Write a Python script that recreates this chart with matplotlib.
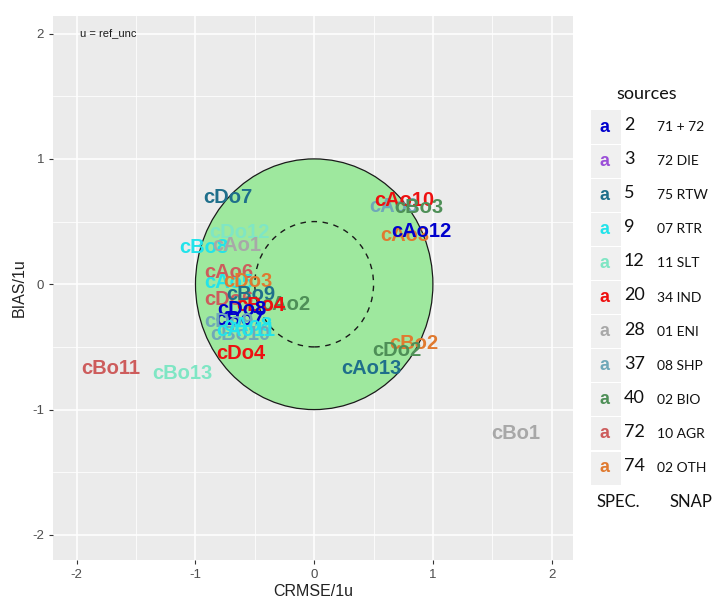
import matplotlib
matplotlib.use("Agg")
import matplotlib.pyplot as plt
from matplotlib.patches import Circle, Rectangle

plt.rcParams["axes.unicode_minus"] = False
plt.rcParams["font.family"] = ["Liberation Sans", "DejaVu Sans"]

# ---- data ----
spec_codes = ["2", "3", "5", "9", "12", "20", "28", "37", "40", "72", "74"]
snap_labels = ["71 + 72", "72 DIE", "75 RTW", "07 RTR", "11 SLT", "34 IND",
               "01 ENI", "08 SHP", "02 BIO", "10 AGR", "02 OTH"]
spec_colors = ["#0000CD", "#9B4FD8", "#1F6F8B", "#22E3EA", "#7FE6C4", "#EE1010",
               "#A8A8A8", "#6FA8B8", "#4E8F57", "#CD5C5C", "#E07A30"]

labels = ["cDo7", "cDo12", "cBo8", "cAo1", "cAo6", "cAo5", "cDo3", "cDo6",
          "cBo9", "cAo2", "cBo4", "cDo8", "cBo7", "cDo9", "cAo8", "cBo10",
          "cAo11", "cDo4", "cBo11", "cBo13", "cAo9", "cAo10", "cBo3", "cAo3",
          "cAo12", "cBo2", "cDo2", "cAo13", "cBo1"]
crmse = [-0.73, -0.63, -0.93, -0.65, -0.72, -0.72, -0.56, -0.72,
         -0.53, -0.24, -0.45, -0.61, -0.63, -0.72, -0.56, -0.62,
         -0.58, -0.62, -1.71, -1.11, 0.67, 0.76, 0.88, 0.76,
         0.90, 0.84, 0.70, 0.48, 1.70]
bias = [0.69, 0.41, 0.29, 0.31, 0.09, 0.01, 0.02, -0.12,
        -0.08, -0.16, -0.17, -0.20, -0.28, -0.30, -0.33, -0.40,
        -0.37, -0.55, -0.67, -0.71, 0.62, 0.67, 0.61, 0.39,
        0.42, -0.47, -0.53, -0.67, -1.19]
label_spec = ["5", "12", "9", "28", "72", "9", "74", "72",
              "5", "40", "20", "2", "2", "37", "9", "37",
              "9", "20", "72", "12", "37", "20", "40", "74",
              "2", "74", "40", "5", "28"]

x_ticks = [-2, -1, 0, 1, 2]
y_ticks = [-2, -1, 0, 1, 2]

color_of = dict(zip(spec_codes, spec_colors))

W, H = 715, 600
fig = plt.figure(figsize=(W / 100, H / 100), dpi=100)
ax = fig.add_axes([53 / W, 1 - 560 / H, 520 / W, 544 / H])
ax.set_facecolor("#EBEBEB")
ax.set_xlim(-2.2, 2.18)
ax.set_ylim(-2.2, 2.14)
for s in ax.spines.values():
    s.set_visible(False)

ax.set_xticks(x_ticks)
ax.set_yticks(y_ticks)
ax.set_xticks([-1.5, -0.5, 0.5, 1.5], minor=True)
ax.set_yticks([-1.5, -0.5, 0.5, 1.5], minor=True)
ax.grid(which="major", color="white", lw=1.1, zorder=0)
ax.grid(which="minor", color="white", lw=0.55, zorder=0)
ax.set_axisbelow(True)
ax.tick_params(which="major", length=3, color="#333333", labelcolor="#4D4D4D", labelsize=9.5)
ax.tick_params(which="minor", length=0)
ax.set_xlabel("CRMSE/1u", fontsize=11.5, color="#222222", labelpad=2)
ax.set_ylabel("BIAS/1u", fontsize=11.5, color="#222222", labelpad=4)

ax.add_patch(Circle((0, 0), 1.0, facecolor="#9EE89E", edgecolor="#1a1a1a", lw=0.9, zorder=1))
ax.add_patch(Circle((0, 0), 0.5, facecolor="none", edgecolor="#1a1a1a", lw=1.0,
                    linestyle=(0, (4, 4)), zorder=2))

ax.text(-1.97, 2.0, "u = ref_unc", fontsize=8, color="#1a1a1a", ha="left", va="center")

for lab, x, y, sp in zip(labels, crmse, bias, label_spec):
    ax.text(x, y, lab, color=color_of[sp], fontsize=14.5, fontweight="bold",
            ha="center", va="center", zorder=3)

# ---- legend ----
fig.text(647 / W, 1 - 94 / H, "sources", fontsize=13, ha="center", va="center",
         family="Lato", color="#111111")
row0, dy = 127, 34.1
for i, (code, snap, col) in enumerate(zip(spec_codes, snap_labels, spec_colors)):
    yc = row0 + i * dy
    fig.patches.append(Rectangle((591 / W, 1 - (yc + 16.5) / H), 30 / W, 33 / H,
                                 transform=fig.transFigure, facecolor="#F0F0F0",
                                 edgecolor="none"))
    fig.text(605 / W, 1 - yc / H, "a", color=col, fontsize=13, fontweight="bold",
             ha="center", va="center")
    fig.text(624 / W, 1 - (yc - 2) / H, code, fontsize=13, family="Lato",
             ha="left", va="center", color="#111111")
    fig.text(657 / W, 1 - yc / H, snap, fontsize=10, family="Lato",
             ha="left", va="center", color="#111111")
fig.text(618 / W, 1 - 502 / H, "SPEC.", fontsize=12, family="Lato", ha="center",
         va="center", color="#111111")
fig.text(691 / W, 1 - 502 / H, "SNAP", fontsize=12, family="Lato", ha="center",
         va="center", color="#111111")

fig.savefig("out.png", dpi=100)
